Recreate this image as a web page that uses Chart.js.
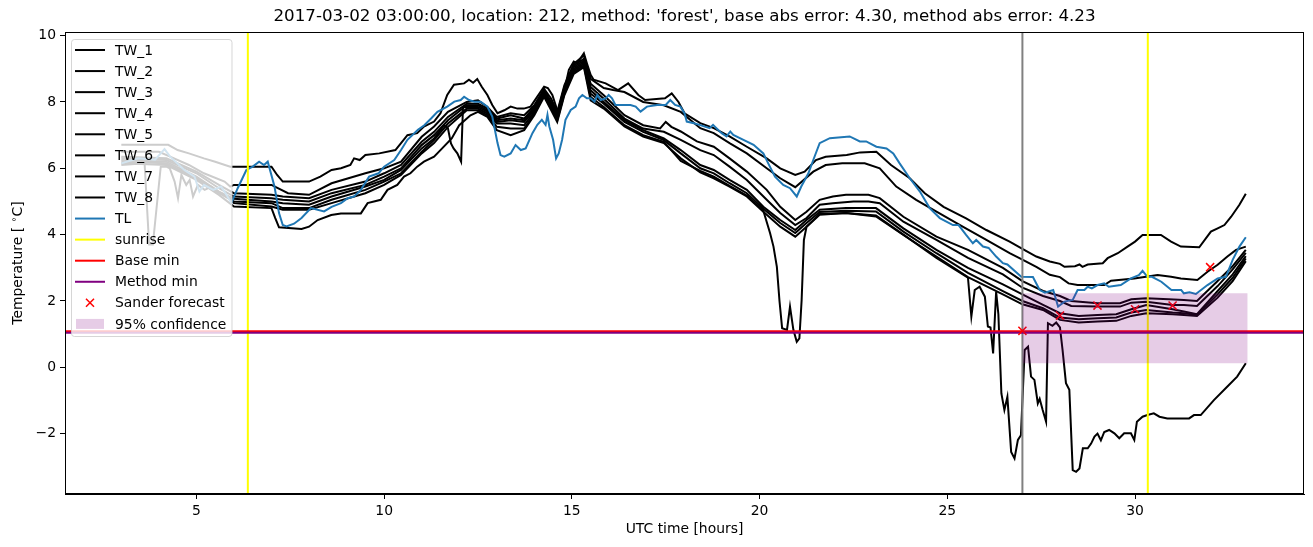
<!DOCTYPE html>
<html>
<head>
<meta charset="utf-8">
<script src="https://cdn.jsdelivr.net/npm/chart.js@4"></script>
<style>
  html, body { margin: 0; padding: 0; background: #fff; }
</style>
</head>
<body>
<canvas id="myChart" width="1313" height="547"></canvas>
<script>
// chart values ([hour, temperature])
const TW_1 = [[3,6.71],[4.25,6.71],[4.5,6.55],[4.8,6.45],[5.2,6.3],[5.5,6.2],[5.9,6.05],[7,6.05],[7.15,5.8],[7.3,5.6],[8,5.6],[8.3,5.75],[8.6,5.95],[8.85,6],[9.1,6.1],[9.2,6.3],[9.35,6.25],[9.5,6.4],[9.87,6.45],[10.3,6.55],[10.45,6.76],[10.62,7],[10.88,7.06],[11.06,7.26],[11.33,7.41],[11.5,7.66],[11.68,8.21],[11.86,8.52],[12.13,8.56],[12.26,8.67],[12.37,8.58],[12.48,8.69],[12.6,8.46],[12.75,8.21],[12.88,7.91],[13.02,7.66],[13.2,7.75],[13.37,7.86],[13.55,7.8],[13.72,7.8],[13.9,7.86],[14.08,8.16],[14.26,8.46],[14.36,8.42],[14.48,8.21],[14.61,7.76],[14.7,7.85],[14.92,8.97],[15.05,9.22],[15.14,9.17],[15.23,9.32],[15.32,9.47],[15.4,9.17],[15.5,8.82],[15.58,8.67],[15.9,8.56],[16.23,8.36],[16.5,8.56],[16.77,8.21],[16.95,8.06],[17.48,8.11],[17.66,8.26],[17.84,8],[18,7.66],[18.42,7.36],[18.78,7.21],[19.2,6.96],[19.66,6.65],[20.19,6.3],[20.55,6],[20.95,5.8],[21.2,5.9],[21.5,6.25],[21.76,6.35],[22.32,6.4],[22.68,6.48],[23.11,6.5],[23.5,6.1],[24,5.7],[24.4,5.25],[24.9,4.84],[25.5,4.49],[26.04,4.14],[26.66,3.79],[27,3.57],[27.37,3.34],[27.73,3.19],[28,3.12],[28.12,3.03],[28.4,3.05],[28.52,3.1],[28.6,3.03],[28.74,3.1],[29.14,3.14],[29.27,3.29],[29.54,3.44],[29.8,3.64],[30,3.79],[30.2,3.99],[30.69,3.99],[30.96,3.79],[31.22,3.64],[31.71,3.62],[32.02,4.09],[32.2,4.19],[32.38,4.29],[32.56,4.54],[32.78,4.9],[32.95,5.23]];
const TW_2 = [[3,6.5],[4,6.5],[4.3,6.35],[4.8,6.1],[5.2,5.85],[5.75,5.6],[5.9,5.45],[6,5.5],[7,5.5],[7.44,5.25],[8,5.2],[8.6,5.55],[9.5,5.85],[10,6],[10.45,6.2],[11,6.95],[11.33,7.26],[11.7,7.7],[12.2,8],[12.5,8.05],[12.75,7.85],[13,7.55],[13.37,7.66],[13.73,7.6],[14,7.9],[14.26,8.4],[14.45,8.1],[14.61,7.7],[14.8,8.5],[15.05,9.15],[15.32,9.4],[15.5,8.7],[15.85,8.42],[16.1,8.36],[16.4,8.3],[16.9,8],[17.45,7.9],[17.9,7.7],[18.42,7.21],[18.78,7.06],[19.2,6.76],[19.66,6.45],[20.19,6],[20.55,5.7],[20.95,5.43],[21.43,5.9],[21.76,6.1],[22.2,6.15],[22.8,6.15],[23.2,6],[23.64,5.45],[24.17,5.05],[24.7,4.7],[25.41,4.24],[26.04,3.84],[26.66,3.44],[27,3.25],[27.37,3.03],[27.73,2.79],[28,2.72],[28.23,2.53],[28.47,2.48],[29.18,2.48],[29.36,2.61],[29.98,2.68],[30.6,2.78],[30.96,2.73],[31.22,2.68],[31.66,2.63],[31.93,2.88],[32.2,3.09],[32.46,3.34],[32.69,3.54],[32.95,3.64]];
const TW_3 = [[3,6.35],[4.2,6.3],[5,5.9],[5.6,5.5],[6,5.25],[7,5.2],[7.3,5.15],[8,5.1],[8.6,5.35],[9.5,5.6],[10,5.85],[10.45,6.1],[11,6.8],[11.33,7.1],[11.7,7.55],[12.2,7.95],[12.5,7.95],[12.75,7.8],[13,7.5],[13.37,7.6],[13.73,7.5],[14,7.85],[14.26,8.35],[14.45,8],[14.61,7.65],[14.8,8.45],[15.05,9.1],[15.32,9.3],[15.5,8.55],[15.85,8.2],[16.4,7.6],[16.9,7.3],[17.35,7.2],[17.5,7.4],[17.65,7.25],[17.9,7.11],[18.33,6.81],[18.78,6.65],[19.2,6.3],[19.66,5.9],[20.19,5.35],[20.55,4.84],[20.95,4.44],[21.25,4.69],[21.6,5.05],[21.95,5.15],[22.3,5.2],[22.9,5.2],[23.2,5.1],[23.83,4.54],[24.71,3.94],[25.55,3.54],[26.48,3],[27,2.6],[27.55,2.3],[28,2.15],[28.3,2],[29,1.93],[29.6,1.93],[29.9,2.05],[30.3,2.08],[30.9,2.05],[31.3,2.03],[31.65,2],[32.2,2.6],[32.6,3.05],[32.95,3.54]];
const TW_4 = [[3,6.3],[4.2,6.25],[5,5.85],[5.6,5.4],[6,5.15],[7,5.1],[7.3,5.05],[8,5],[8.6,5.25],[9.5,5.5],[10,5.75],[10.45,6],[11,6.7],[11.33,7],[11.7,7.45],[12.2,7.9],[12.5,7.9],[12.75,7.75],[13,7.45],[13.37,7.5],[13.73,7.45],[14,7.8],[14.26,8.3],[14.45,7.95],[14.61,7.6],[14.8,8.4],[15.05,9.05],[15.32,9.25],[15.5,8.45],[15.85,8.1],[16.4,7.5],[16.9,7.2],[17.45,7.1],[17.9,6.86],[18.42,6.55],[18.78,6.4],[19.2,6.05],[19.66,5.65],[20.19,5.05],[20.55,4.65],[20.95,4.29],[21.25,4.5],[21.6,4.9],[21.95,4.95],[22.5,5],[22.9,5],[23.2,4.95],[23.83,4.39],[24.71,3.84],[25.55,3.3],[26.48,2.8],[27,2.4],[27.55,2.15],[28,2],[28.3,1.85],[29,1.83],[29.6,1.83],[29.9,1.95],[30.3,1.98],[31,1.88],[31.3,1.88],[31.65,1.85],[32.2,2.45],[32.6,2.95],[32.95,3.45]];
const TW_5 = [[3,6.25],[4.2,6.2],[5,5.75],[5.6,5.3],[6,5.08],[7,5],[7.3,4.95],[8,4.9],[8.6,5.15],[9.5,5.45],[10,5.65],[10.45,5.95],[11,6.6],[11.33,6.9],[11.6,7.3],[11.7,7.2],[11.78,6.75],[11.85,6.6],[11.95,6.45],[12.05,6.2],[12.1,7.85],[12.2,7.85],[12.5,7.85],[12.75,7.7],[13,7.4],[13.37,7.45],[13.73,7.4],[14,7.75],[14.26,8.3],[14.45,7.9],[14.61,7.55],[14.8,8.35],[15.05,9],[15.32,9.2],[15.5,8.35],[15.85,8],[16.4,7.45],[16.9,7.15],[17.45,6.9],[17.9,6.55],[18.42,6.1],[18.78,5.95],[19.2,5.65],[19.66,5.35],[20.1,4.84],[20.55,4.44],[20.95,4.14],[21.25,4.44],[21.6,4.75],[22.3,4.8],[23.1,4.8],[23.83,4.19],[24.71,3.54],[25.55,3],[26.48,2.5],[27,2.2],[27.55,1.88],[28,1.63],[28.5,1.55],[29,1.58],[29.5,1.6],[29.9,1.75],[30.3,1.88],[31,1.75],[31.3,1.68],[31.65,1.6],[32.2,2.3],[32.6,2.8],[32.95,3.35]];
const TW_6 = [[3,6.2],[4.2,6.15],[5,5.7],[5.6,5.25],[6,5],[7,4.95],[7.3,4.8],[8,4.8],[8.6,5.05],[9.5,5.35],[10,5.6],[10.45,5.85],[11,6.5],[11.33,6.85],[11.7,7.35],[12.2,7.8],[12.5,7.8],[12.75,7.65],[13,7.35],[13.37,7.35],[13.73,7.3],[14,7.7],[14.26,8.25],[14.45,7.85],[14.61,7.5],[14.8,8.3],[15.05,8.95],[15.32,9.15],[15.5,8.25],[15.85,7.95],[16.4,7.4],[16.9,7.1],[17.45,6.85],[17.9,6.45],[18.42,6],[18.78,5.85],[19.2,5.55],[19.66,5.25],[20.1,4.78],[20.55,4.35],[20.95,4.05],[21.25,4.35],[21.6,4.68],[22.3,4.72],[23.1,4.7],[23.83,4.09],[24.71,3.44],[25.55,2.85],[26.48,2.3],[27,2],[27.55,1.78],[28,1.5],[28.5,1.45],[29,1.48],[29.5,1.5],[29.9,1.65],[30.3,1.73],[31,1.65],[31.3,1.63],[31.65,1.58],[32.2,2.2],[32.6,2.7],[32.95,3.28]];
const TW_7 = [[3,6.15],[4.2,6.1],[5,5.65],[5.6,5.2],[6,4.85],[7,4.8],[7.1,4.5],[7.2,4.22],[7.8,4.17],[8,4.24],[8.23,4.44],[8.59,4.59],[8.85,4.64],[9.38,4.64],[9.56,4.95],[9.91,5.05],[10.09,5.35],[10.35,5.5],[10.53,5.75],[10.7,5.85],[10.88,6.05],[11.06,6.2],[11.33,6.35],[11.5,6.55],[11.8,6.9],[12,7.3],[12.3,7.6],[12.5,7.7],[12.75,7.55],[13,7.15],[13.37,7],[13.73,7.15],[14,7.6],[14.26,8.16],[14.45,7.75],[14.61,7.4],[14.8,8.2],[15.05,8.85],[15.32,9.05],[15.5,8.05],[15.85,7.8],[16.4,7.26],[16.9,6.96],[17.45,6.76],[17.9,6.3],[18.42,5.88],[18.78,5.7],[19.2,5.45],[19.66,5.15],[20.1,4.69],[20.55,4.24],[20.95,3.94],[21.25,4.24],[21.6,4.6],[22.3,4.65],[23.1,4.55],[23.83,3.99],[24.71,3.34],[25.55,2.72],[26.48,2.2],[27,1.9],[27.55,1.73],[28,1.43],[28.5,1.35],[29,1.38],[29.5,1.4],[29.9,1.55],[30.3,1.63],[31,1.6],[31.3,1.58],[31.65,1.55],[32.2,2.1],[32.6,2.6],[32.95,3.2]];
const TW_8 = [[3,6.1],[3.62,6.15],[3.74,3.7],[3.84,3.7],[4.05,6.05],[4.2,6.05],[4.29,6],[4.42,5.6],[4.51,5.1],[4.6,5.8],[4.73,5.5],[4.82,5.65],[4.91,5.15],[5.04,5.5],[5.22,5.35],[5.4,5.45],[5.58,5.3],[5.75,5.2],[5.93,5.05],[6,4.95],[7,4.85],[7.3,4.75],[8,4.75],[8.6,4.95],[9.5,5.25],[10,5.5],[10.45,5.8],[11,6.45],[11.33,6.76],[11.7,7.25],[12.2,7.75],[12.5,7.75],[12.75,7.6],[13,7.25],[13.37,7.2],[13.73,7.2],[14,7.65],[14.26,8.2],[14.45,7.8],[14.61,7.45],[14.8,8.25],[15.05,8.9],[15.32,9.1],[15.5,8.15],[15.85,7.85],[16.4,7.3],[16.9,7],[17.45,6.8],[17.9,6.22],[18.42,5.92],[18.78,5.75],[19.2,5.47],[19.66,5.18],[20.1,4.72],[20.28,4.04],[20.37,3.64],[20.46,3.03],[20.53,2],[20.6,1.18],[20.73,1.13],[20.81,1.83],[20.9,1.13],[20.99,0.77],[21.06,0.87],[21.12,2.03],[21.18,3.84],[21.25,4.24],[21.6,4.62],[22.3,4.65],[23.1,4.58],[23.83,4],[24.71,3.3],[25.55,2.7],[25.64,1.53],[25.73,2.33],[25.86,2.43],[26,2.13],[26.08,1.23],[26.15,1.2],[26.22,0.42],[26.3,2.28],[26.36,1.6],[26.44,-0.79],[26.52,-1.29],[26.6,-0.89],[26.7,-2.55],[26.79,-2.75],[26.88,-2.19],[26.96,-2.05],[27.06,0.52],[27.15,0.62],[27.23,-0.28],[27.32,-0.38],[27.41,-1.09],[27.46,-0.95],[27.54,-1.29],[27.63,-1.64],[27.68,1.33],[27.8,1.25],[27.9,1.35],[28,1.2],[28.07,0.52],[28.16,-0.48],[28.25,-0.68],[28.34,-3.1],[28.43,-3.15],[28.52,-3.05],[28.61,-2.44],[28.74,-2.44],[28.83,-2.3],[28.92,-2.09],[29,-2],[29.09,-2.2],[29.18,-1.95],[29.31,-1.89],[29.45,-1.99],[29.58,-2.14],[29.71,-1.99],[29.89,-1.99],[29.98,-2.19],[30.05,-1.64],[30.2,-1.49],[30.33,-1.44],[30.5,-1.39],[30.65,-1.49],[30.86,-1.54],[31.44,-1.54],[31.57,-1.44],[31.75,-1.44],[32.1,-0.99],[32.46,-0.58],[32.72,-0.28],[32.95,0.12]];
const TL = [[3,6.15],[3.45,6.3],[3.9,6.26],[4.15,6.58],[4.3,6.35],[4.68,5.95],[4.95,5.75],[5.08,5.3],[5.2,5.5],[5.45,5.35],[5.66,5.45],[5.8,5.2],[5.93,4.95],[6.1,5.4],[6.33,5.95],[6.5,6.05],[6.67,6.2],[6.8,6.1],[6.9,6.2],[7.08,5.45],[7.2,4.65],[7.3,4.29],[7.4,4.25],[7.6,4.33],[7.8,4.5],[8.05,4.8],[8.4,4.7],[8.6,4.84],[8.85,4.95],[9.03,5.1],[9.2,5.15],[9.38,5.35],[9.6,5.75],[9.85,5.85],[10,6.05],[10.27,6.25],[10.45,6.55],[10.62,6.86],[10.9,7.16],[11.07,7.3],[11.25,7.5],[11.42,7.7],[11.68,7.86],[11.87,8.01],[12.04,8.06],[12.13,8.16],[12.26,8.06],[12.4,8.01],[12.57,8.01],[12.75,7.86],[12.88,7.56],[13.02,6.76],[13.1,6.4],[13.2,6.35],[13.37,6.45],[13.5,6.7],[13.64,6.55],[13.77,6.6],[13.95,7.06],[14.08,7.31],[14.2,7.46],[14.3,7.31],[14.35,7.61],[14.4,7.26],[14.5,6.86],[14.58,6.3],[14.65,6.45],[14.74,6.86],[14.83,7.46],[14.97,7.76],[15.1,7.86],[15.19,8.11],[15.28,8.21],[15.4,8.11],[15.5,8.11],[15.6,8.01],[15.68,8.21],[15.77,8.06],[15.9,8.11],[15.98,8.21],[16.07,8.11],[16.16,7.91],[16.56,7.91],[16.7,7.86],[16.83,7.71],[17,7.86],[17.27,7.91],[17.5,7.91],[17.62,8.06],[17.75,7.91],[17.89,7.86],[18,7.66],[18.06,7.41],[18.25,7.36],[18.4,7.31],[18.67,7.21],[18.76,7.31],[18.85,7.21],[18.99,7.06],[19.12,6.96],[19.22,7.11],[19.3,7.01],[19.57,6.86],[19.84,6.71],[20.1,6.45],[20.23,6.15],[20.41,5.75],[20.63,5.5],[20.81,5.4],[20.99,5.15],[21.11,5.45],[21.3,5.85],[21.43,6.25],[21.6,6.76],[21.87,6.91],[22.4,6.96],[22.67,6.81],[22.84,6.81],[23.11,6.65],[23.38,6.6],[23.56,6.45],[23.73,6.15],[24,5.7],[24.27,5.3],[24.53,4.8],[24.8,4.5],[25.15,4.29],[25.3,4.29],[25.5,3.99],[25.68,3.74],[25.77,3.84],[25.95,3.64],[26.1,3.6],[26.3,3.34],[26.48,3.14],[26.6,3.1],[26.97,2.73],[27.28,2.72],[27.46,2.33],[27.6,2.25],[27.82,2.33],[27.95,1.83],[28.12,1.98],[28.34,2.03],[28.47,2.33],[28.65,2.33],[28.74,2.43],[28.85,2.38],[29,2.48],[29.18,2.53],[29.3,2.43],[29.62,2.48],[29.89,2.68],[30.1,2.78],[30.2,2.91],[30.33,2.73],[30.45,2.73],[30.7,2.58],[30.97,2.33],[31.23,2.33],[31.3,2.23],[31.45,2.26],[31.62,2.21],[31.93,2.48],[32.2,2.68],[32.42,2.73],[32.6,3.24],[32.78,3.64],[32.95,3.92]];

const sunriseHours = [6.37, 30.34];
const nowHour = 27;
const baseMin = 1.09;
const methodMin = 1.04;
const forecastHours = [27, 28, 29, 30, 31, 32];
const forecastTemps = [1.1, 1.56, 1.86, 1.75, 1.86, 3.02];
const confHours = [27, 33];
const confLow = 0.12;
const confHigh = 2.23;

const xRange = [1.5, 34.5];
const yRange = [-3.82, 10.11];
const xTicks = [5, 10, 15, 20, 25, 30];
const yTicks = [-2, 0, 2, 4, 6, 8, 10];

const titleText = "2017-03-02 03:00:00, location: 212, method: 'forest', base abs error: 4.30, method abs error: 4.23";
const FONT = "'DejaVu Sans', 'Liberation Sans', sans-serif";

const pts = arr => arr.map(p => ({ x: p[0], y: p[1] }));

// build datasets (later entries are painted on top, like matplotlib)
const twSeries = [TW_1, TW_2, TW_3, TW_4, TW_5, TW_6, TW_7, TW_8];
const datasets = [];
twSeries.forEach((s, i) => {
    datasets.push({ label: 'TW_' + (i + 1), data: pts(s), borderColor: '#000', borderWidth: 2 });
});
datasets.push({ label: 'TL', data: pts(TL), borderColor: '#1f77b4', borderWidth: 2 });
sunriseHours.forEach(h => {
    datasets.push({ label: 'sunrise', data: [{ x: h, y: yRange[0] }, { x: h, y: yRange[1] }], borderColor: '#ffff00', borderWidth: 2 });
});
datasets.push({ label: 'now', data: [{ x: nowHour, y: yRange[0] }, { x: nowHour, y: yRange[1] }], borderColor: '#808080', borderWidth: 2 });
datasets.push({ label: 'Base min', data: [{ x: xRange[0], y: baseMin }, { x: xRange[1], y: baseMin }], borderColor: '#ff0000', borderWidth: 2 });
datasets.push({ label: 'Method min', data: [{ x: xRange[0], y: methodMin }, { x: xRange[1], y: methodMin }], borderColor: '#800080', borderWidth: 2 });
datasets.push({
    label: 'Sander forecast',
    data: forecastHours.map((h, i) => ({ x: h, y: forecastTemps[i] })),
    showLine: false, pointStyle: 'crossRot', pointRadius: 5.7, borderColor: '#ff0000', borderWidth: 1.5
});
datasets.push({ label: 'conf high', data: confHours.map(h => ({ x: h, y: confHigh })), borderWidth: 0, borderColor: 'rgba(0,0,0,0)' });
datasets.push({
    label: '95% confidence', data: confHours.map(h => ({ x: h, y: confLow })),
    borderWidth: 0, borderColor: 'rgba(0,0,0,0)', fill: '-1', backgroundColor: 'rgba(128,0,128,0.2)'
});
datasets.forEach((d, i) => {
    d.order = datasets.length - i;
    if (d.pointRadius === undefined) d.pointRadius = 0;
    d.tension = 0;
});

const legendItems = [
    ...twSeries.map((s, i) => ({ text: 'TW_' + (i + 1), type: 'line', color: '#000' })),
    { text: 'TL', type: 'line', color: '#1f77b4' },
    { text: 'sunrise', type: 'line', color: '#ffff00' },
    { text: 'Base min', type: 'line', color: '#ff0000' },
    { text: 'Method min', type: 'line', color: '#800080' },
    { text: 'Sander forecast', type: 'cross', color: '#ff0000' },
    { text: '95% confidence', type: 'patch', color: 'rgba(128,0,128,0.2)' }
];

// frame, title, axis labels and legend
const decorations = {
    id: 'decorations',
    afterDraw(chart) {
        const ctx = chart.ctx;
        const a = chart.chartArea;
        ctx.save();
        ctx.strokeStyle = '#000';
        ctx.lineWidth = 1;
        ctx.strokeRect(Math.round(a.left) + 0.5, Math.round(a.top) + 0.5, Math.round(a.right - a.left) - 1, Math.round(a.bottom - a.top) - 1);

        ctx.fillStyle = '#000';
        ctx.textAlign = 'center';
        ctx.textBaseline = 'middle';
        ctx.font = '16.7px ' + FONT;
        ctx.fillText(titleText, (a.left + a.right) / 2, 17);

        ctx.font = '13.9px ' + FONT;
        ctx.fillText('UTC time [hours]', (a.left + a.right) / 2, 529);

        // y label with raised ring
        ctx.translate(18, (a.top + a.bottom) / 2);
        ctx.rotate(-Math.PI / 2);
        const p1 = 'Temperature [ ', p3 = 'C]';
        ctx.font = '13.9px ' + FONT;
        const w1 = ctx.measureText(p1).width;
        ctx.font = '9.7px ' + FONT;
        const w2 = ctx.measureText('\u2218').width;
        ctx.font = '13.9px ' + FONT;
        const w3 = ctx.measureText(p3).width;
        let x0 = -(w1 + w2 + w3) / 2;
        ctx.textAlign = 'left';
        ctx.fillText(p1, x0, 0);
        ctx.font = '9.7px ' + FONT;
        ctx.fillText('\u2218', x0 + w1, -4);
        ctx.font = '13.9px ' + FONT;
        ctx.fillText(p3, x0 + w1 + w2, 0);
        ctx.restore();

        // legend box
        ctx.save();
        const lx = 71.5, ly = 39.5, lw = 160.5, lh = 297;
        ctx.beginPath();
        ctx.roundRect(lx, ly, lw, lh, 3);
        ctx.fillStyle = 'rgba(255,255,255,0.8)';
        ctx.fill();
        ctx.strokeStyle = 'rgba(204,204,204,0.8)';
        ctx.lineWidth = 1;
        ctx.stroke();
        ctx.font = '13.9px ' + FONT;
        ctx.textAlign = 'left';
        ctx.textBaseline = 'middle';
        legendItems.forEach((it, i) => {
            const y = 50 + i * 21.07;
            if (it.type === 'line') {
                ctx.strokeStyle = it.color;
                ctx.lineWidth = 2;
                ctx.beginPath();
                ctx.moveTo(75, y);
                ctx.lineTo(105, y);
                ctx.stroke();
            } else if (it.type === 'cross') {
                ctx.strokeStyle = it.color;
                ctx.lineWidth = 1.5;
                ctx.beginPath();
                ctx.moveTo(86, y - 4); ctx.lineTo(94, y + 4);
                ctx.moveTo(94, y - 4); ctx.lineTo(86, y + 4);
                ctx.stroke();
            } else {
                ctx.fillStyle = it.color;
                ctx.fillRect(76, y - 5, 28, 10);
            }
            ctx.fillStyle = '#000';
            ctx.fillText(it.text, 115, y + 1);
        });
        ctx.restore();
    }
};

const tickFont = { family: FONT, size: 13.9 };

const chart = new Chart(document.getElementById('myChart').getContext('2d'), {
    type: 'line',
    data: { datasets: datasets },
    options: {
        responsive: false,
        animation: false,
        events: [],
        layout: { padding: { left: 0, right: 9, top: 32, bottom: 0 } },
        plugins: { legend: { display: false }, tooltip: { enabled: false }, title: { display: false } },
        scales: {
            x: {
                type: 'linear',
                min: xRange[0],
                max: xRange[1],
                afterBuildTicks: s => { s.ticks = xTicks.map(v => ({ value: v })); },
                afterFit: s => { s.height = 53; },
                ticks: { font: tickFont, color: '#000', padding: 4, maxRotation: 0, autoSkip: false, callback: v => String(v) },
                grid: { display: true, drawOnChartArea: false, drawTicks: true, tickLength: 5, color: '#000', lineWidth: 1 },
                border: { display: true, color: '#000', width: 1 }
            },
            y: {
                type: 'linear',
                min: yRange[0],
                max: yRange[1],
                afterBuildTicks: s => { s.ticks = yTicks.map(v => ({ value: v })); },
                afterFit: s => { s.width = 65; },
                ticks: { font: tickFont, color: '#000', padding: 4, autoSkip: false, callback: v => (v < 0 ? '\u2212' + Math.abs(v) : String(v)) },
                grid: { display: true, drawOnChartArea: false, drawTicks: true, tickLength: 5, color: '#000', lineWidth: 1 },
                border: { display: true, color: '#000', width: 1 }
            }
        }
    },
    plugins: [decorations]
});
</script>
</body>
</html>
